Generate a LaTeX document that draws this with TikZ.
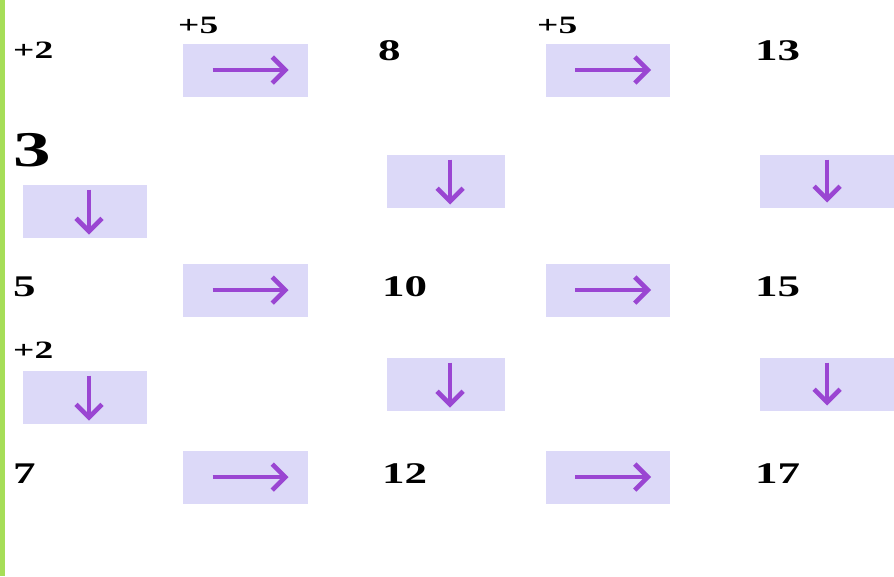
\documentclass[tikz,border=0pt]{standalone}
\usepackage{fontspec}
\setmainfont{Liberation Serif}
\usetikzlibrary{arrows.meta}
\definecolor{barGreen}{HTML}{A6DE58}
\definecolor{boxFill}{HTML}{DCD9F8}
\definecolor{arrPurple}{HTML}{9A46D2}
\tikzset{
  num/.style={anchor=west,inner sep=0pt,font=\bfseries\fontsize{30}{30}\selectfont},
  bignum/.style={anchor=west,inner sep=0pt,font=\bfseries\fontsize{50}{50}\selectfont},
  small/.style={anchor=west,inner sep=0pt,font=\bfseries\fontsize{25}{25}\selectfont},
  hbox/.style={fill=boxFill,draw=none,minimum width=125pt,minimum height=53pt,inner sep=0pt},
  parrow/.style={draw=arrPurple,line width=4.6pt,-{Straight Barb[length=13pt,width=26pt,line width=4.6pt]}}
}
\newcommand{\st}[1]{\scalebox{1.5}[1]{#1}}
\begin{document}
\begin{tikzpicture}[x=1pt,y=-1pt]
\useasboundingbox (0,0) rectangle (894,576);
\fill[white] (0,0) rectangle (894,576);
\fill[barGreen] (0,0) rectangle (5,576);
% row 1
\node[small] (p2a) at (13,50) {\st{+2}};
\node[small] (p5a) at (178,25) {\st{+5}};
\node[hbox] (r1) at (245.5,70) {};
\node[num] (n8) at (378,51) {\st{8}};
\node[small] (p5b) at (537,25) {\st{+5}};
\node[hbox,minimum width=124pt] (r2) at (608,70) {};
\node[num] (n13) at (755,51) {\st{13}};
% row 2
\node[bignum] (n3) at (13,150) {\st{3}};
\node[hbox,minimum width=124pt] (d1) at (85,211.5) {};
\node[hbox,minimum width=118pt] (d2) at (446,181.5) {};
\node[hbox,minimum width=134pt] (d3) at (827,181.5) {};
% row 3
\node[num] (n5) at (13,287) {\st{5}};
\node[hbox] (r3) at (245.5,290) {};
\node[num] (n10) at (382,287) {\st{10}};
\node[hbox,minimum width=124pt] (r4) at (608,290) {};
\node[num] (n15) at (755,287) {\st{15}};
% row 4
\node[small] (p2b) at (13,350) {\st{+2}};
\node[hbox,minimum width=124pt] (d4) at (85,397.5) {};
\node[hbox,minimum width=118pt] (d5) at (446,384.5) {};
\node[hbox,minimum width=134pt] (d6) at (827,384.5) {};
% row 5
\node[num] (n7) at (13,474) {\st{7}};
\node[hbox] (r5) at (245.5,477) {};
\node[num] (n12) at (382,474) {\st{12}};
\node[hbox,minimum width=124pt] (r6) at (608,477) {};
\node[num] (n17) at (755,474) {\st{17}};
% right arrows
\foreach \b in {r1,r2,r3,r4,r5,r6}{
  \draw[parrow] ([xshift=-33pt]\b.center) -- ([xshift=43pt]\b.center);
}
% down arrows
\foreach \b in {d1,d2,d4,d5}{
  \draw[parrow] ([xshift=4pt,yshift=22pt]\b.center) -- ([xshift=4pt,yshift=-23pt]\b.center);
}
\foreach \b in {d3,d6}{
  \draw[parrow] ([yshift=22pt]\b.center) -- ([yshift=-21pt]\b.center);
}
\end{tikzpicture}
\end{document}
